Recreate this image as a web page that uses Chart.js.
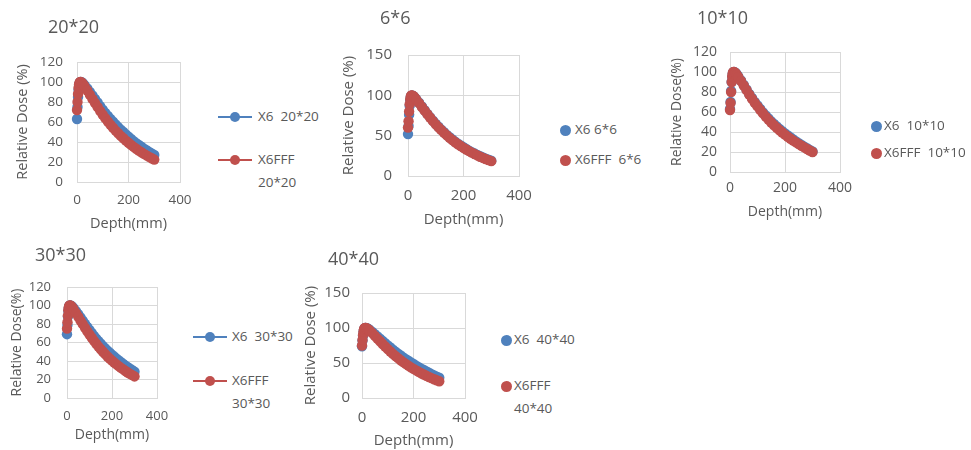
<!DOCTYPE html>
<html>
<head>
<meta charset="utf-8">
<script src="https://cdn.jsdelivr.net/npm/chart.js@4.4.0/dist/chart.umd.min.js"></script>
<style>
  body { margin: 0; background: #fff; width: 971px; height: 450px; position: relative; overflow: hidden;
         font-family: 'Open Sans', sans-serif; color: #595959; }
  canvas { position: absolute; }
  .txt { position: absolute; white-space: pre; line-height: 1; }
  .dot { position: absolute; border-radius: 50%; }
  .ln { position: absolute; height: 2px; }
</style>
</head>
<body>
<script>
// depth (mm) shared by every curve
const depthMm = [0, 2, 4, 6, 8, 10, 12, 15, 20, 25, 30, 40, 50, 60, 70, 80, 90, 100, 110, 120, 130, 140, 150,
  160, 170, 180, 190, 200, 210, 220, 230, 240, 250, 260, 270, 280, 290, 300];

// relative dose (%)
const x6_20 = [63, 75, 85, 92, 96, 98.5, 99.7, 100, 99.5, 98, 96.5, 93.5, 90, 86.5, 83, 79.5, 75.8, 72.3, 69, 66, 63,
  60.2, 57.5, 54.9, 52.4, 50, 47.5, 45.2, 43, 40.9, 38.9, 37, 35.2, 33.4, 31.7, 30.1, 28.5, 27];
const fff_20 = [72, 80, 88, 94, 97.5, 99.3, 100, 100, 99, 97.2, 95.3, 91.5, 87.3, 83, 79, 75, 71, 67.3, 63.8, 60.5,
  57.3, 54.3, 51.4, 48.7, 46.1, 43.7, 41.4, 39.2, 37.1, 35.1, 33.2, 31.4, 29.7, 28.1, 26.6, 25.1, 23.7, 22.4];
const x6_6 = [52, 62, 76, 87, 94, 98, 99.6, 100, 99, 97.2, 95, 90.8, 86.2, 81.5, 77, 72.7, 68.6, 64.7, 61, 57.5, 54.2,
  51, 48, 45.2, 42.6, 40.1, 37.8, 35.6, 33.5, 31.5, 29.6, 27.8, 26.1, 24.5, 23, 21.6, 20.3, 19];
const fff_6 = [60, 68, 80, 89, 95, 98.5, 99.8, 100, 98.8, 96.8, 94.6, 90.3, 85.6, 81, 76.5, 72.2, 68, 64, 60.3, 56.8,
  53.5, 50.3, 47.3, 44.5, 41.9, 39.4, 37.1, 34.9, 32.8, 30.8, 29, 27.2, 25.5, 23.9, 22.4, 21, 19.7, 18.4];
const x6_10 = [63, 70, 81, 90, 95, 98.5, 99.8, 100, 99.2, 97.5, 95.5, 91.5, 87, 82.5, 78, 74, 70, 66.5, 63, 59.5, 56.5,
  53.5, 50.5, 48, 45.5, 43, 40.8, 38.6, 36.5, 34.5, 32.5, 30.6, 28.8, 27, 25.3, 23.7, 22, 20.5];
const fff_10 = [62, 69, 80, 90, 95.5, 98.8, 100, 100, 99, 97, 95, 91, 86.5, 82, 77.5, 73.3, 69.3, 65.6, 62, 58.6, 55.4,
  52.4, 49.5, 46.8, 44.2, 41.8, 39.5, 37.4, 35.3, 33.3, 31.4, 29.6, 27.9, 26.2, 24.6, 23, 21.5, 20];
const x6_30 = [69, 79, 88, 94, 97.5, 99.3, 100, 100, 99.5, 98.2, 96.8, 93.8, 90.5, 87, 83.6, 80.2, 76.8, 73.5, 70.3,
  67.2, 64.2, 61.4, 58.7, 56.1, 53.6, 51.2, 48.9, 46.7, 44.6, 42.5, 40.5, 38.6, 36.8, 35, 33.3, 31.6, 30, 28.5];
const fff_30 = [75, 82, 89, 95, 98, 99.5, 100, 100, 99, 97.4, 95.6, 91.8, 87.8, 83.7, 79.8, 76, 72.2, 68.6, 65.1, 61.8,
  58.6, 55.6, 52.7, 50, 47.4, 44.9, 42.6, 40.4, 38.3, 36.3, 34.4, 32.6, 30.9, 29.2, 27.6, 26.1, 24.7, 23.3];
const x6_40 = [74, 82, 89, 94.5, 97.8, 99.4, 100, 100, 99.6, 98.5, 97.2, 94.3, 91.2, 88, 84.8, 81.6, 78.4, 75.2, 72.1,
  69.1, 66.2, 63.4, 60.7, 58.1, 55.6, 53.2, 50.9, 48.5, 46.2, 44, 42, 40, 38, 36, 34, 32.3, 30.6, 29];
const fff_40 = [75, 83, 90, 95, 98.2, 99.6, 100, 100, 99.2, 97.8, 96.2, 92.6, 88.7, 84.8, 81, 77.2, 73.5, 69.9, 66.4,
  63.1, 59.9, 56.9, 54, 51.3, 48.7, 46.2, 43.8, 41.6, 39.5, 37.4, 35.4, 33.5, 31.7, 30, 28.4, 26.8, 25.3, 23.9];

// tick values
const xTicks = [0, 200, 400];
const yTicks120 = [0, 20, 40, 60, 80, 100, 120];
const yTicks150 = [0, 50, 100, 150];

const BLUE = '#4f81bd';
const RED = '#c0504d';
const GRID = '#d9d9d9';

// layout: L/R/T/B = plot area, yW/xH = axis boxes, legend positions
const panels = [
  { title: '20*20', tx: 48, ty: 27, yTitle: 'Relative Dose (%)', x6: x6_20, fff: fff_20, yt: yTicks120,
    L: 77, R: 180, T: 62, B: 182, yW: 63, xH: 51, tickSize: 13.5, axSize: 14.5, yPad: 14, xPad: 10, line: true,
    leg: [{ mx: 235, my: 117, tx: 258, lines: ['X6  20*20'] }, { mx: 235, my: 160, tx: 258, lines: ['X6FFF', '20*20'] }] },
  { title: '6*6', tx: 380, ty: 18, yTitle: 'Relative Dose (%)', x6: x6_6, fff: fff_6, yt: yTicks150,
    L: 408, R: 519, T: 55, B: 176, yW: 68, xH: 53, tickSize: 15, axSize: 15, yPad: 16, xPad: 11, line: false,
    leg: [{ mx: 565, my: 130, tx: 575, lines: ['X6 6*6'] }, { mx: 565, my: 160, tx: 575, lines: ['X6FFF  6*6'] }] },
  { title: '10*10', tx: 697, ty: 18, yTitle: 'Relative Dose(%)', x6: x6_10, fff: fff_10, yt: yTicks120,
    L: 730, R: 840, T: 52, B: 172, yW: 61, xH: 48, tickSize: 14, axSize: 14, yPad: 13, xPad: 8, line: false,
    leg: [{ mx: 876, my: 126, tx: 884, lines: ['X6  10*10'] }, { mx: 876, my: 153, tx: 884, lines: ['X6FFF  10*10'] }] },
  { title: '30*30', tx: 35, ty: 255, yTitle: 'Relative Dose(%)', x6: x6_30, fff: fff_30, yt: yTicks120,
    L: 67, R: 157, T: 287, B: 398, yW: 58, xH: 45, tickSize: 13, axSize: 14, yPad: 16, xPad: 10, line: true,
    leg: [{ mx: 210, my: 337, tx: 232, lines: ['X6  30*30'] }, { mx: 210, my: 381, tx: 232, lines: ['X6FFF', '30*30'] }] },
  { title: '40*40', tx: 328, ty: 259, yTitle: 'Relative Dose (%)', x6: x6_40, fff: fff_40, yt: yTicks150,
    L: 362, R: 465, T: 293, B: 398, yW: 60, xH: 52, tickSize: 15, axSize: 15, yPad: 12, xPad: 11, line: false,
    leg: [{ mx: 506, my: 340, tx: 514, lines: ['X6  40*40'] }, { mx: 506, my: 386, tx: 514, lines: ['X6FFF', '40*40'] }] }
];

function addText(txt, x, y, size) {
  var d = document.createElement('div');
  d.className = 'txt';
  d.textContent = txt;
  d.style.fontSize = size + 'px';
  d.style.left = x + 'px';
  d.style.top = (y - size * 0.55) + 'px';
  document.body.appendChild(d);
}

function addDot(x, y, r, color) {
  var d = document.createElement('div');
  d.className = 'dot';
  d.style.width = d.style.height = (2 * r) + 'px';
  d.style.left = (x - r) + 'px';
  d.style.top = (y - r) + 'px';
  d.style.background = color;
  document.body.appendChild(d);
}

function addLine(x1, x2, y, color) {
  var d = document.createElement('div');
  d.className = 'ln';
  d.style.left = x1 + 'px';
  d.style.width = (x2 - x1) + 'px';
  d.style.top = (y - 1) + 'px';
  d.style.background = color;
  document.body.appendChild(d);
}

function series(values, color, line, order) {
  return {
    data: depthMm.map(function (d, i) { return { x: d, y: values[i] }; }),
    showLine: line,
    order: order,
    clip: false,
    borderColor: color,
    borderWidth: 2,
    backgroundColor: color,
    pointRadius: 5.2,
    pointBorderWidth: 0,
    pointBackgroundColor: color
  };
}

panels.forEach(function (p) {
  // generous padding so tick-label overflow never moves the plot area
  var padTop = 32, padRight = 36;
  var c = document.createElement('canvas');
  c.width = p.yW + (p.R - p.L) + padRight;
  c.height = padTop + (p.B - p.T) + p.xH;
  c.style.left = (p.L - p.yW) + 'px';
  c.style.top = (p.T - padTop) + 'px';
  document.body.appendChild(c);

  var tickFont = { family: "'Open Sans', sans-serif", size: p.tickSize };
  var axFont = { family: "'Open Sans', sans-serif", size: p.axSize };

  new Chart(c.getContext('2d'), {
    type: 'scatter',
    // X6FFF drawn above X6
    data: { datasets: [series(p.x6, BLUE, p.line, 1), series(p.fff, RED, p.line, 0)] },
    options: {
      responsive: false,
      animation: false,
      layout: { padding: { top: padTop, right: padRight, left: 0, bottom: 0 } },
      plugins: { legend: { display: false }, tooltip: { enabled: false } },
      scales: {
        x: {
          type: 'linear',
          min: xTicks[0], max: xTicks[xTicks.length - 1],
          ticks: { stepSize: xTicks[1] - xTicks[0], autoSkip: false, maxRotation: 0,
                   color: '#595959', font: tickFont, padding: p.xPad },
          grid: { color: GRID, drawTicks: false },
          border: { color: GRID },
          title: { display: true, text: 'Depth(mm)', color: '#595959', font: axFont, padding: 0 },
          afterFit: function (s) { s.height = p.xH; }
        },
        y: {
          min: p.yt[0], max: p.yt[p.yt.length - 1],
          ticks: { stepSize: p.yt[1] - p.yt[0], autoSkip: false,
                   color: '#595959', font: tickFont, padding: p.yPad },
          grid: { color: GRID, drawTicks: false },
          border: { color: GRID },
          title: { display: true, text: p.yTitle, color: '#595959', font: axFont, padding: 0 },
          afterFit: function (s) { s.width = p.yW; }
        }
      }
    }
  });

  addText(p.title, p.tx, p.ty, 18);
  p.leg.forEach(function (e, k) {
    var color = k === 0 ? BLUE : RED;
    if (p.line) addLine(e.mx - 17, e.mx + 17, e.my, color);
    addDot(e.mx, e.my, p.line ? 5 : 5.5, color);
    e.lines.forEach(function (t, j) { addText(t, e.tx, e.my + j * 23, 13.5); });
  });
});
</script>
</body>
</html>
